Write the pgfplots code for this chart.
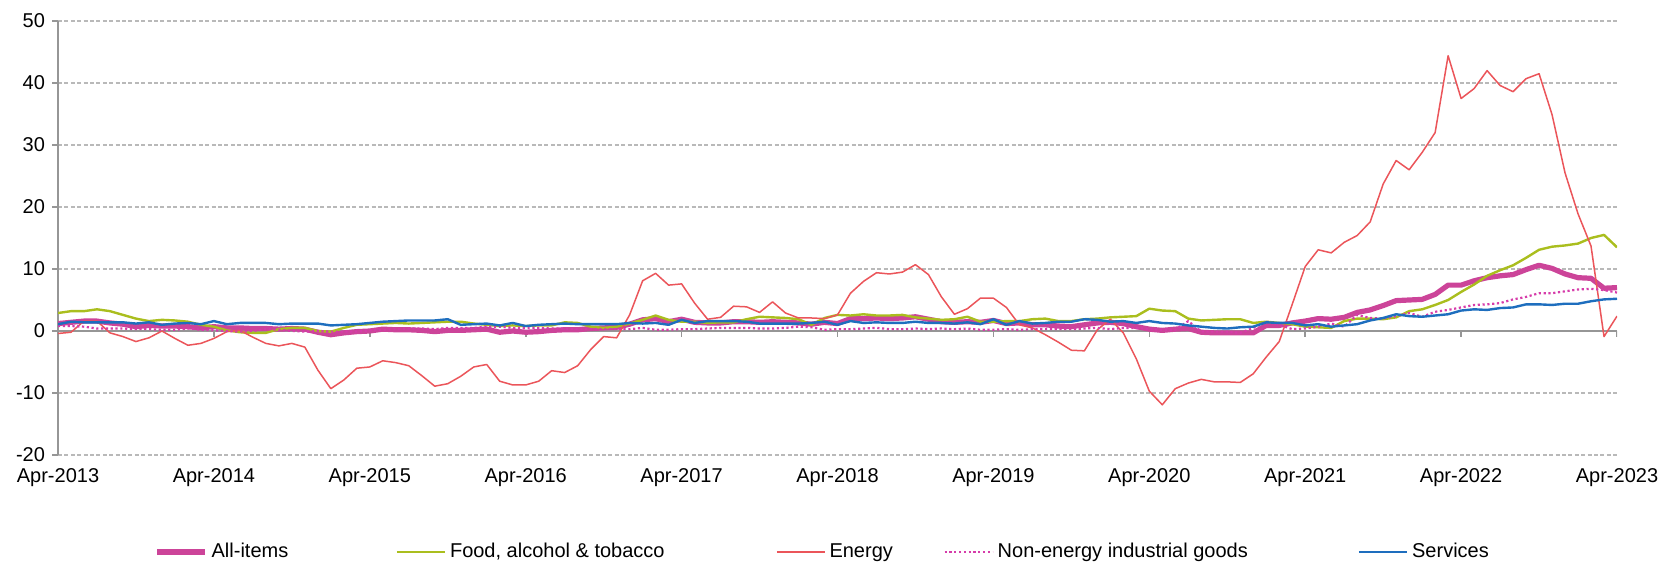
\documentclass[border=0pt]{standalone}
\usepackage{fontspec}
\setmainfont{Liberation Sans}
\usepackage{pgfplots}
\usepackage{pgfplotstable}
\pgfplotsset{compat=1.18}
\definecolor{allc}{RGB}{204,68,153}
\definecolor{foodc}{RGB}{170,190,30}
\definecolor{enerc}{RGB}{235,85,90}
\definecolor{neigc}{RGB}{214,60,170}
\definecolor{servc}{RGB}{30,110,190}
\definecolor{axc}{RGB}{150,150,150}
\pgfplotstableread{
all food energy neig serv
1.2 2.9 -0.4 0.8 1.1
1.4 3.2 -0.2 0.8 1.5
1.6 3.2 1.6 0.7 1.4
1.6 3.5 1.6 0.4 1.4
1.3 3.2 -0.3 0.4 1.4
1.1 2.6 -0.9 0.4 1.4
0.7 2.0 -1.7 0.3 1.2
0.9 1.6 -1.1 0.3 1.4
0.8 1.8 0.0 0.2 1.0
0.8 1.7 -1.2 0.2 1.2
0.7 1.5 -2.3 0.4 1.3
0.5 1.0 -2.0 0.2 1.1
0.7 0.7 -1.2 0.1 1.6
0.5 0.1 -0.1 0.0 1.1
0.5 -0.2 0.1 -0.1 1.3
0.4 -0.3 -1.0 0.0 1.3
0.4 -0.3 -2.0 0.3 1.3
0.3 0.3 -2.4 0.2 1.1
0.4 0.5 -2.0 0.0 1.2
0.3 0.5 -2.6 -0.1 1.2
-0.2 0.0 -6.3 0.0 1.2
-0.6 -0.1 -9.3 -0.1 0.9
-0.3 0.5 -7.9 -0.1 1.0
-0.1 1.0 -6.0 -0.1 1.1
0.0 1.1 -5.8 0.1 1.3
0.3 1.2 -4.8 0.2 1.5
0.2 1.3 -5.1 0.3 1.6
0.2 1.2 -5.6 0.4 1.7
0.1 1.3 -7.2 0.4 1.7
-0.1 1.4 -8.9 0.3 1.7
0.1 1.5 -8.5 0.5 1.9
0.1 1.5 -7.3 0.5 1.0
0.2 1.2 -5.8 0.5 1.1
0.3 1.0 -5.4 0.7 1.2
-0.2 0.8 -8.1 0.7 0.9
0.0 0.9 -8.7 0.5 1.3
-0.2 0.8 -8.7 0.5 0.8
-0.1 0.9 -8.1 0.5 1.0
0.1 0.9 -6.4 0.4 1.1
0.2 1.4 -6.7 0.4 1.2
0.2 1.3 -5.6 0.3 1.1
0.4 0.7 -3.0 0.3 1.1
0.5 0.5 -0.9 0.3 1.1
0.6 0.7 -1.1 0.3 1.1
1.1 1.2 2.6 0.3 1.3
1.8 1.8 8.1 0.5 1.2
2.0 2.5 9.3 0.2 1.3
1.5 1.8 7.4 0.2 1.0
1.9 1.5 7.6 0.3 1.8
1.4 1.5 4.5 0.3 1.3
1.3 1.3 1.9 0.4 1.6
1.3 1.4 2.2 0.5 1.6
1.5 1.4 4.0 0.5 1.6
1.5 1.9 3.9 0.5 1.5
1.4 2.3 3.0 0.4 1.2
1.5 2.2 4.7 0.4 1.2
1.4 2.1 2.9 0.5 1.2
1.3 1.9 2.1 0.7 1.2
1.1 1.0 2.1 0.6 1.3
1.4 2.1 2.0 0.2 1.5
1.2 2.6 2.6 0.3 1.0
2.0 2.5 6.1 0.3 1.6
2.0 2.7 8.0 0.4 1.3
2.1 2.5 9.4 0.5 1.4
2.0 2.5 9.2 0.3 1.3
2.1 2.6 9.5 0.3 1.3
2.3 2.2 10.7 0.4 1.5
1.9 2.0 9.1 0.3 1.3
1.5 1.8 5.5 0.4 1.3
1.4 1.9 2.7 0.3 1.2
1.5 2.3 3.6 0.4 1.4
1.4 1.5 5.3 0.2 1.1
1.7 1.5 5.3 0.2 1.9
1.2 1.6 3.8 0.3 1.0
1.3 1.6 1.0 0.2 1.6
1.0 1.9 0.5 0.3 1.2
1.0 2.0 -0.6 0.3 1.3
0.8 1.6 -1.8 0.3 1.5
0.7 1.6 -3.1 0.3 1.5
1.0 1.9 -3.2 0.4 1.9
1.3 2.0 0.2 0.5 1.8
1.4 2.2 1.9 0.3 1.5
1.2 2.3 -0.3 0.5 1.6
0.7 2.4 -4.5 0.5 1.3
0.3 3.6 -9.7 0.3 1.6
0.1 3.3 -11.9 0.2 1.3
0.3 3.2 -9.3 0.2 1.2
0.4 2.0 -8.4 1.6 0.9
-0.2 1.7 -7.8 -0.1 0.7
-0.3 1.8 -8.2 -0.1 0.5
-0.3 1.9 -8.2 -0.1 0.4
-0.3 1.9 -8.3 -0.3 0.6
-0.3 1.3 -6.9 0.5 0.7
0.9 1.5 -4.2 1.5 1.4
0.9 1.3 -1.7 1.0 1.3
1.3 1.1 4.3 0.3 1.3
1.6 0.7 10.4 0.4 0.9
2.0 0.6 13.1 0.7 1.1
1.9 0.5 12.6 1.2 0.7
2.2 1.6 14.3 0.7 0.9
3.0 2.0 15.4 2.6 1.1
3.4 2.0 17.6 2.1 1.7
4.1 1.9 23.7 2.0 2.1
4.9 2.2 27.5 2.4 2.7
5.0 3.2 26.0 2.9 2.4
5.1 3.5 28.8 2.3 2.3
5.9 4.2 32.0 3.1 2.5
7.4 5.0 44.4 3.4 2.7
7.4 6.3 37.5 3.8 3.3
8.1 7.5 39.1 4.2 3.5
8.6 8.9 42.0 4.3 3.4
8.9 9.8 39.6 4.5 3.7
9.1 10.6 38.6 5.1 3.8
9.9 11.8 40.7 5.5 4.3
10.6 13.1 41.5 6.1 4.3
10.1 13.6 34.9 6.1 4.2
9.2 13.8 25.5 6.4 4.4
8.6 14.1 18.9 6.7 4.4
8.5 15.0 13.7 6.8 4.8
6.9 15.5 -0.9 6.6 5.1
7.0 13.5 2.4 6.2 5.2
}\hicp

\begin{document}
\begin{tikzpicture}
\useasboundingbox (0,0) rectangle (832.5pt,287.5pt);
\begin{axis}[
  at={(29pt,60pt)}, anchor=south west,
  scale only axis, width=779.5pt, height=217pt,
  xmin=0, xmax=120, ymin=-20, ymax=50,
  axis x line*=bottom, axis y line*=left,
  x axis line style={draw=none},
  y axis line style={axc, line width=1pt},
  xtick={0,12,...,120},
  xticklabels={Apr-2013,Apr-2014,Apr-2015,Apr-2016,Apr-2017,Apr-2018,Apr-2019,Apr-2020,Apr-2021,Apr-2022,Apr-2023},
  xtick style={draw=none},
  ytick={-20,-10,...,50},
  yticklabels={-20,-10,0,10,20,30,40,50},
  ytick style={axc, line width=0.8pt},
  tick align=outside, major tick length=3pt,
  ticklabel style={font=\fontsize{10}{12}\selectfont, text=black},
  ymajorgrids,
  major grid style={gray!55, line width=0.6pt, dash pattern=on 2pt off 1.2pt},
  extra y ticks={0}, extra y tick labels={},
  extra y tick style={grid=major, major grid style={solid, axc, line width=1pt}, tick style={draw=none}},
  legend columns=-1,
  legend style={draw=none, fill=none, inner sep=0pt, at={(0.0616,-0.2235)}, anchor=west,
    font=\fontsize{10}{12}\selectfont, column sep=0pt,
    /tikz/every odd column/.append style={column sep=0pt}},
  legend image code/.code={\draw[#1] (0pt,0pt) -- (24pt,0pt);},
  line join=round,
]
\pgfplotsinvokeforeach{0,12,...,120}{\draw[axc, line width=0.8pt] (axis cs:#1,0) -- ++(0pt,-3pt);}
\addplot[allc, line width=2.6pt] table[x expr=\coordindex, y=all] {\hicp};
\addlegendentry{\makebox[90pt][l]{All-items}}
\addplot[foodc, line width=1.2pt] table[x expr=\coordindex, y=food] {\hicp};
\addlegendentry{\makebox[161pt][l]{Food, alcohol \& tobacco}}
\addplot[enerc, line width=0.75pt] table[x expr=\coordindex, y=energy] {\hicp};
\addlegendentry{\makebox[55pt][l]{Energy}}
\addplot[neigc, line width=1.1pt, dash pattern=on 1.1pt off 1.3pt] table[x expr=\coordindex, y=neig] {\hicp};
\addlegendentry{\makebox[178pt][l]{Non-energy industrial goods}}
\addplot[servc, line width=1.2pt] table[x expr=\coordindex, y=serv] {\hicp};
\addlegendentry{Services}
\end{axis}
\end{tikzpicture}
\end{document}
